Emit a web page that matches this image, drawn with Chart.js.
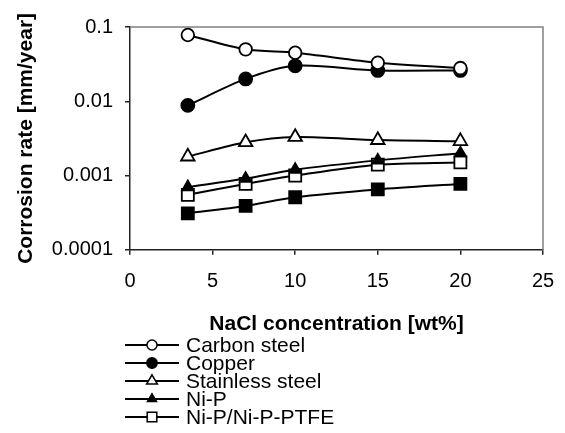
<!DOCTYPE html>
<html>
<head>
<meta charset="utf-8">
<script src="https://cdn.jsdelivr.net/npm/chart.js@4"></script>
<style>
  html, body { margin: 0; padding: 0; background: #fff; }
  #wrap { width: 565px; height: 433px; }
</style>
</head>
<body>
<div id="wrap"><canvas id="corrosion-chart"></canvas></div>
<script>
// NaCl concentration [wt%]
const concentrations = [3.5, 7, 10, 15, 20];

// corrosion rates [mm/year]
const carbonSteel = [0.078, 0.050, 0.045, 0.033, 0.028];
const copper = [0.0088, 0.020, 0.030, 0.026, 0.026];
const stainlessSteel = [0.0018, 0.0028, 0.0033, 0.0030, 0.0029];
const niP = [0.00070, 0.00091, 0.0012, 0.0016, 0.0020];
const niPPtfe = [0.00055, 0.00077, 0.0010, 0.0014, 0.0015];
const niPPtfeBottom = [0.00031, 0.00039, 0.00051, 0.00065, 0.00077];

const yTicks = [0.0001, 0.001, 0.01, 0.1];
const xStep = 5;

const font = 'Liberation Sans, Arial, sans-serif';

function series(label, values, pointStyle, fill, radius) {
    return {
        label: label,
        data: concentrations.map((x, i) => ({ x: x, y: values[i] })),
        borderColor: '#000',
        borderWidth: 2,
        backgroundColor: fill,
        pointStyle: pointStyle,
        pointRadius: radius,
        pointHoverRadius: radius,
        pointBackgroundColor: fill,
        pointBorderColor: '#000',
        pointBorderWidth: 1.8,
        tension: 0.3,
        fill: false
    };
}

const datasets = [
    series('Carbon steel', carbonSteel, 'circle', '#fff', 6.3),
    series('Copper', copper, 'circle', '#000', 6.5),
    series('Stainless steel', stainlessSteel, 'triangle', '#fff', 7.8),
    series('Ni-P', niP, 'triangle', '#000', 6.5),
    series('Ni-P/Ni-P-PTFE', niPPtfe, 'rect', '#fff', 8.5),
    series('Ni-P-PTFE', niPPtfeBottom, 'rect', '#000', 8.5)
];
const legendCount = 5;

// top and right frame of the plot area in gray
const frame = {
    id: 'frame',
    beforeDatasetsDraw(chart) {
        const { ctx, chartArea: a } = chart;
        ctx.save();
        ctx.strokeStyle = '#808080';
        ctx.lineWidth = 1.5;
        ctx.beginPath();
        ctx.moveTo(a.left, a.top);
        ctx.lineTo(a.right, a.top);
        ctx.lineTo(a.right, a.bottom);
        ctx.stroke();
        ctx.restore();
    }
};

// stacked legend under the x axis title
const stackedLegend = {
    id: 'stackedLegend',
    afterDraw(chart) {
        const ctx = chart.ctx;
        ctx.save();
        chart.data.datasets.slice(0, legendCount).forEach((ds, i) => {
            const y = 345 + i * 18;
            ctx.strokeStyle = '#000';
            ctx.lineWidth = 2;
            ctx.beginPath();
            ctx.moveTo(125, y);
            ctx.lineTo(179, y);
            ctx.stroke();
            ctx.fillStyle = ds.pointBackgroundColor;
            ctx.strokeStyle = '#000';
            ctx.lineWidth = 1.5;
            Chart.helpers.drawPoint(ctx, {
                pointStyle: ds.pointStyle,
                radius: ds.pointRadius * 0.8,
                borderWidth: 1.5,
                rotation: 0
            }, 152, y);
            ctx.fillStyle = '#000';
            ctx.font = '21px ' + font;
            ctx.textBaseline = 'middle';
            ctx.textAlign = 'left';
            ctx.fillText(ds.label, 186, y + 1);
        });
        ctx.restore();
    }
};

const ctx = document.getElementById('corrosion-chart').getContext('2d');
new Chart(ctx, {
    type: 'line',
    data: { datasets: datasets },
    options: {
        responsive: true,
        maintainAspectRatio: false,
        animation: false,
        layout: { padding: { top: 27, right: 22, bottom: 96, left: 0 } },
        plugins: {
            legend: { display: false },
            tooltip: { enabled: false }
        },
        scales: {
            x: {
                type: 'linear',
                min: 0,
                max: 25,
                afterFit(scale) {
                    scale.paddingLeft = 0;
                    scale.paddingRight = 0;
                },
                grid: { drawOnChartArea: false, tickLength: 5, color: '#222', lineWidth: 1.5 },
                border: { color: '#222', width: 1.5 },
                ticks: { stepSize: xStep, padding: 15, color: '#000', font: { family: font, size: 20 } },
                title: {
                    display: true,
                    text: 'NaCl concentration [wt%]',
                    color: '#000',
                    padding: { top: 3, bottom: 0 },
                    font: { family: font, size: 21, weight: 'bold' }
                }
            },
            y: {
                type: 'logarithmic',
                min: yTicks[0],
                max: yTicks[yTicks.length - 1],
                afterBuildTicks(scale) {
                    scale.ticks = yTicks.map(v => ({ value: v }));
                },
                afterFit(scale) {
                    scale.width = 130;
                },
                grid: { drawOnChartArea: false, tickLength: 5, color: '#222', lineWidth: 1.5 },
                border: { color: '#222', width: 1.5 },
                ticks: {
                    padding: 12,
                    color: '#000',
                    font: { family: font, size: 20 },
                    callback: value => String(value)
                },
                title: {
                    display: true,
                    text: 'Corrosion rate [mm/year]',
                    color: '#000',
                    padding: { top: 14, bottom: 0 },
                    font: { family: font, size: 21, weight: 'bold' }
                }
            }
        }
    },
    plugins: [frame, stackedLegend]
});
</script>
</body>
</html>
